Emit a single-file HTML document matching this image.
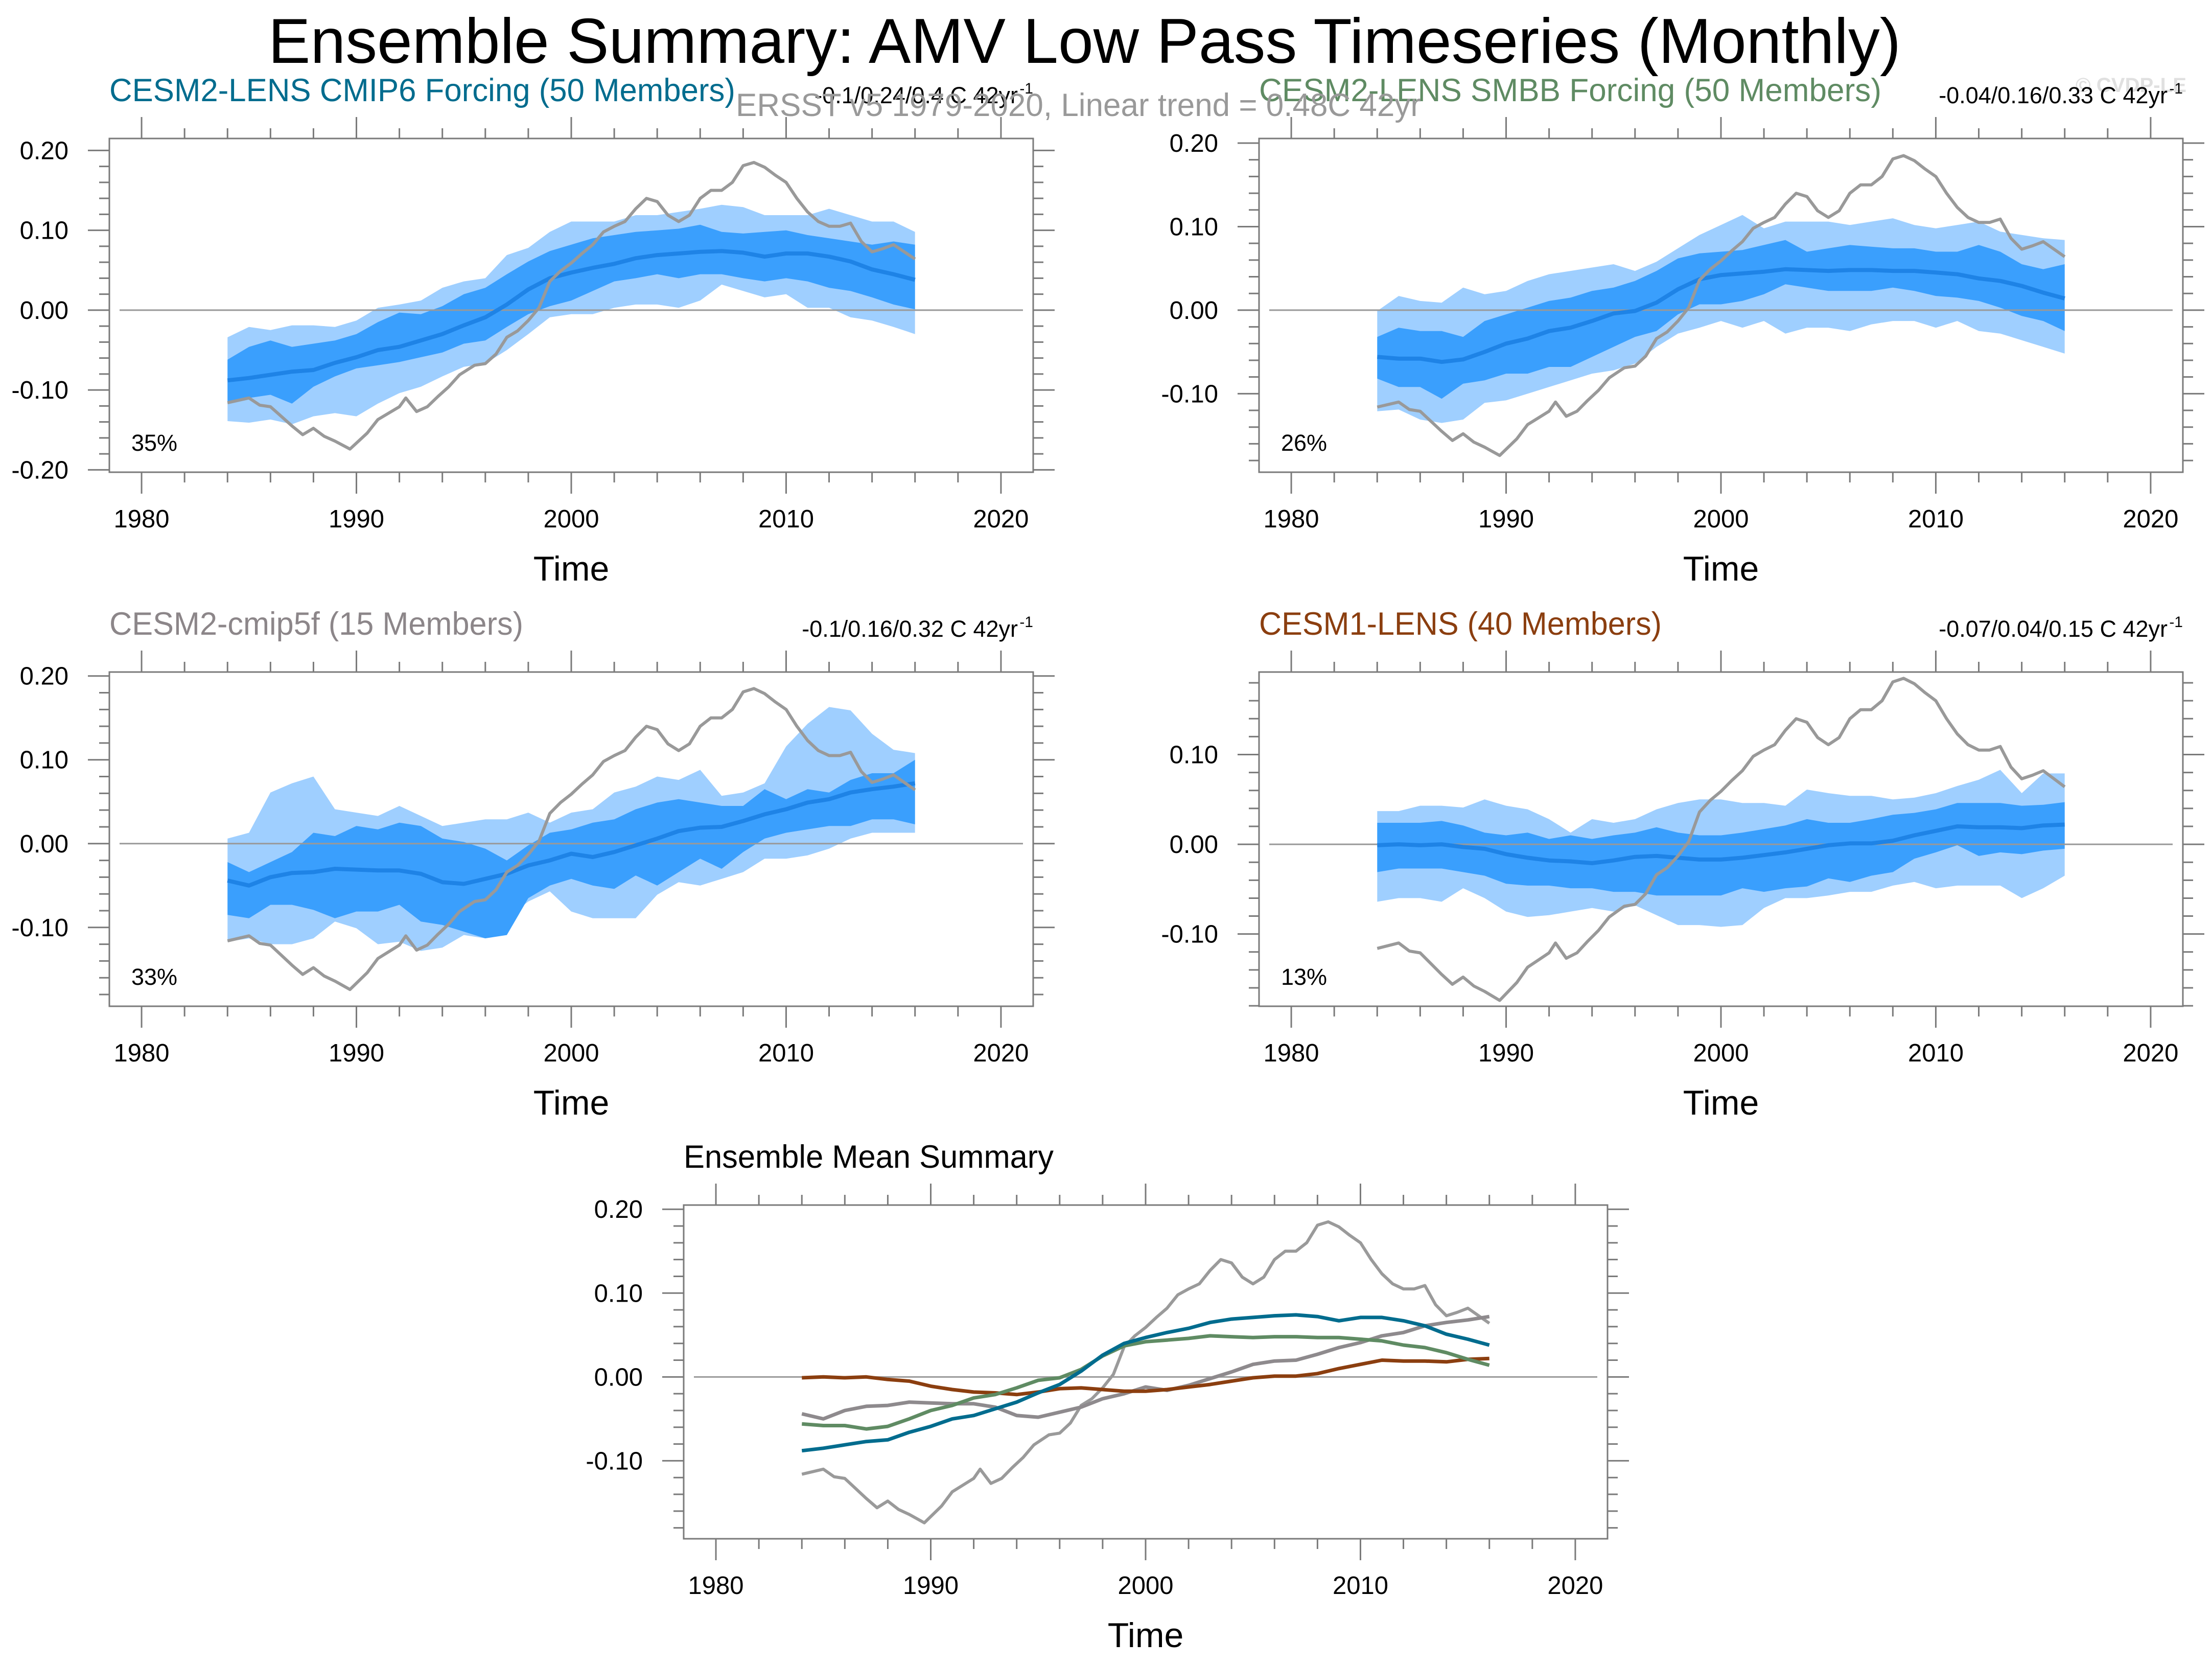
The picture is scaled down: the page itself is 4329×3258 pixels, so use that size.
<!DOCTYPE html>
<html><head><meta charset="utf-8"><title>AMV Low Pass</title>
<style>html,body{margin:0;padding:0;background:#fff}svg{display:block}</style></head>
<body>
<svg id="chart" width="4329" height="3258" viewBox="0 0 4329 3258" xmlns="http://www.w3.org/2000/svg" font-family="Liberation Sans, sans-serif">
<text x="525" y="123" font-size="124" textLength="3195" lengthAdjust="spacingAndGlyphs">Ensemble Summary: AMV Low Pass Timeseries (Monthly)</text>
<text x="4062" y="180" font-size="40" font-weight="bold" fill="#e0e0e0" textLength="217" lengthAdjust="spacingAndGlyphs">© CVDP-LE</text>
<g id="panels"></g>
<text x="1440" y="227" font-size="63" fill="#999" textLength="1341" lengthAdjust="spacingAndGlyphs">ERSST v5 1979-2020, Linear trend = 0.48C 42yr</text>
</svg>
<script>
const years = [1984,1985,1986,1987,1988,1989,1990,1991,1992,1993,1994,1995,1996,1997,1998,1999,2000,2001,2002,2003,2004,2005,2006,2007,2008,2009,2010,2011,2012,2013,2014,2015,2016];
const obsYears = [1984,1985,1985.5,1986,1986.5,1987,1987.5,1988,1988.5,1989,1989.7,1990.5,1991,1991.5,1992,1992.3,1992.8,1993.3,1993.8,1994.3,1994.8,1995.5,1996,1996.5,1997,1997.5,1998,1998.5,1999,1999.5,2000,2000.5,2001,2001.5,2002,2002.5,2003,2003.5,2004,2004.5,2005,2005.5,2006,2006.5,2007,2007.5,2008,2008.5,2009,2009.5,2010,2010.5,2011,2011.5,2012,2012.5,2013,2013.5,2014,2014.5,2015,2015.5,2016];
const obsVals = [-0.116,-0.110,-0.119,-0.121,-0.133,-0.145,-0.156,-0.148,-0.158,-0.164,-0.174,-0.154,-0.137,-0.129,-0.121,-0.110,-0.127,-0.121,-0.108,-0.096,-0.081,-0.069,-0.067,-0.055,-0.034,-0.026,-0.013,0.003,0.036,0.049,0.059,0.071,0.082,0.098,0.105,0.111,0.127,0.140,0.136,0.119,0.111,0.119,0.140,0.150,0.150,0.160,0.181,0.185,0.179,0.169,0.160,0.140,0.123,0.111,0.105,0.105,0.109,0.086,0.073,0.077,0.082,0.073,0.064];

const p1Mean = [-0.088,-0.085,-0.081,-0.077,-0.075,-0.066,-0.059,-0.050,-0.046,-0.038,-0.030,-0.019,-0.009,0.007,0.026,0.040,0.047,0.053,0.058,0.065,0.069,0.071,0.073,0.074,0.072,0.067,0.071,0.071,0.067,0.061,0.051,0.045,0.038];
const p1DarkHi = [-0.062,-0.046,-0.038,-0.046,-0.042,-0.038,-0.030,-0.015,-0.003,-0.005,0.005,0.020,0.028,0.045,0.061,0.074,0.082,0.090,0.094,0.098,0.100,0.102,0.107,0.098,0.096,0.098,0.100,0.094,0.090,0.086,0.082,0.086,0.082];
const p1DarkLo = [-0.117,-0.110,-0.106,-0.117,-0.096,-0.083,-0.073,-0.069,-0.065,-0.059,-0.053,-0.042,-0.038,-0.021,-0.005,0.005,0.012,0.024,0.036,0.040,0.045,0.040,0.045,0.045,0.040,0.036,0.040,0.036,0.028,0.024,0.016,0.007,0.001];
const p1LightHi = [-0.034,-0.021,-0.025,-0.019,-0.019,-0.021,-0.013,0.003,0.007,0.012,0.028,0.036,0.040,0.069,0.078,0.098,0.111,0.111,0.111,0.119,0.119,0.123,0.127,0.132,0.129,0.119,0.119,0.119,0.127,0.119,0.111,0.111,0.098];
const p1LightLo = [-0.139,-0.141,-0.137,-0.143,-0.133,-0.129,-0.133,-0.117,-0.104,-0.096,-0.083,-0.071,-0.067,-0.050,-0.030,-0.009,-0.005,-0.005,0.003,0.007,0.007,0.003,0.012,0.032,0.024,0.016,0.020,0.003,0.003,-0.009,-0.013,-0.021,-0.030];

const p2Mean = [-0.056,-0.058,-0.058,-0.062,-0.059,-0.050,-0.040,-0.034,-0.025,-0.021,-0.013,-0.004,-0.001,0.009,0.025,0.037,0.042,0.044,0.046,0.049,0.048,0.047,0.048,0.048,0.047,0.047,0.045,0.043,0.038,0.035,0.029,0.021,0.014];
const p2DarkHi = [-0.032,-0.021,-0.025,-0.025,-0.032,-0.013,-0.005,0.003,0.011,0.015,0.023,0.027,0.035,0.047,0.062,0.068,0.070,0.072,0.078,0.084,0.070,0.074,0.078,0.076,0.074,0.074,0.070,0.070,0.078,0.070,0.055,0.049,0.055];
const p2DarkLo = [-0.082,-0.092,-0.092,-0.106,-0.088,-0.084,-0.076,-0.076,-0.068,-0.068,-0.056,-0.044,-0.032,-0.025,-0.005,0.007,0.007,0.011,0.019,0.031,0.027,0.023,0.023,0.023,0.027,0.023,0.017,0.015,0.011,0.003,-0.007,-0.013,-0.025];
const p2LightHi = [-0.001,0.017,0.011,0.009,0.027,0.019,0.023,0.035,0.043,0.047,0.051,0.055,0.047,0.058,0.074,0.090,0.102,0.114,0.098,0.106,0.106,0.106,0.102,0.106,0.110,0.102,0.098,0.102,0.106,0.094,0.090,0.086,0.084];
const p2LightLo = [-0.121,-0.119,-0.131,-0.135,-0.131,-0.111,-0.108,-0.100,-0.092,-0.084,-0.076,-0.072,-0.064,-0.044,-0.028,-0.021,-0.013,-0.021,-0.013,-0.028,-0.021,-0.021,-0.025,-0.017,-0.013,-0.013,-0.021,-0.013,-0.025,-0.028,-0.036,-0.044,-0.052];

const p3Mean = [-0.044,-0.050,-0.040,-0.035,-0.034,-0.030,-0.031,-0.032,-0.032,-0.036,-0.046,-0.048,-0.042,-0.036,-0.026,-0.020,-0.012,-0.016,-0.010,-0.002,0.006,0.015,0.019,0.020,0.027,0.035,0.041,0.049,0.053,0.061,0.065,0.068,0.072];
const p3DarkHi = [-0.022,-0.034,-0.022,-0.010,0.013,0.009,0.021,0.017,0.025,0.021,0.006,0.002,-0.006,-0.020,-0.002,0.013,0.017,0.025,0.029,0.041,0.049,0.053,0.049,0.045,0.045,0.065,0.053,0.065,0.061,0.076,0.084,0.084,0.100];
const p3DarkLo = [-0.085,-0.089,-0.073,-0.073,-0.079,-0.089,-0.081,-0.081,-0.073,-0.093,-0.097,-0.105,-0.113,-0.109,-0.065,-0.050,-0.042,-0.050,-0.054,-0.038,-0.050,-0.034,-0.018,-0.030,-0.010,0.006,0.013,0.017,0.021,0.021,0.029,0.029,0.023];
const p3LightHi = [0.006,0.013,0.061,0.072,0.080,0.041,0.037,0.033,0.045,0.033,0.021,0.025,0.029,0.029,0.037,0.025,0.037,0.041,0.061,0.068,0.080,0.076,0.088,0.057,0.061,0.072,0.116,0.143,0.163,0.159,0.131,0.112,0.108];
const p3LightLo = [-0.117,-0.113,-0.120,-0.120,-0.113,-0.093,-0.101,-0.120,-0.117,-0.128,-0.124,-0.109,-0.113,-0.089,-0.069,-0.057,-0.081,-0.089,-0.089,-0.089,-0.061,-0.046,-0.050,-0.042,-0.034,-0.018,-0.018,-0.014,-0.006,0.006,0.013,0.013,0.013];

const p4Mean = [-0.001,0.000,-0.001,0.000,-0.003,-0.005,-0.011,-0.015,-0.018,-0.019,-0.021,-0.018,-0.014,-0.013,-0.015,-0.017,-0.017,-0.015,-0.012,-0.009,-0.005,-0.001,0.001,0.001,0.004,0.010,0.015,0.020,0.019,0.019,0.018,0.021,0.022];
const p4DarkHi = [0.024,0.024,0.024,0.026,0.021,0.013,0.010,0.013,0.006,0.010,0.006,0.010,0.013,0.019,0.013,0.010,0.010,0.013,0.017,0.021,0.028,0.024,0.024,0.028,0.033,0.035,0.039,0.046,0.046,0.046,0.043,0.044,0.047];
const p4DarkLo = [-0.031,-0.027,-0.027,-0.027,-0.031,-0.035,-0.044,-0.046,-0.046,-0.049,-0.049,-0.053,-0.053,-0.057,-0.057,-0.057,-0.057,-0.049,-0.053,-0.049,-0.047,-0.038,-0.042,-0.035,-0.031,-0.016,-0.009,-0.001,-0.013,-0.009,-0.011,-0.007,-0.005];
const p4LightHi = [0.037,0.037,0.043,0.043,0.041,0.050,0.043,0.039,0.028,0.013,0.028,0.024,0.028,0.039,0.046,0.050,0.050,0.046,0.046,0.043,0.061,0.057,0.054,0.054,0.050,0.052,0.057,0.065,0.072,0.083,0.057,0.079,0.079];
const p4LightLo = [-0.064,-0.060,-0.060,-0.064,-0.049,-0.060,-0.075,-0.081,-0.079,-0.075,-0.071,-0.075,-0.068,-0.079,-0.090,-0.090,-0.092,-0.090,-0.071,-0.060,-0.060,-0.057,-0.053,-0.053,-0.046,-0.042,-0.049,-0.046,-0.046,-0.046,-0.060,-0.049,-0.035];

const xTickLabels = [1980,1990,2000,2010,2020];
const yTickLabels = [0.20,0.10,0.00,-0.10,-0.20];

const NS = 'http://www.w3.org/2000/svg';
const root = document.getElementById('panels');
function mk(tag, attrs, parent){ const e=document.createElementNS(NS,tag); for(const k in attrs) e.setAttribute(k,attrs[k]); (parent||root).appendChild(e); return e; }

const panels = [
 {name:'cesm2-lens-cmip6', x0:214,x1:2022,y0:271,y1:924,ymax:0.215,ymin:-0.203,title:'CESM2-LENS CMIP6 Forcing (50 Members)',tcol:'#006c8e',tw:1225,trend:'-0.1/0.24/0.4 C 42yr',pct:'35%',mean:p1Mean,dh:p1DarkHi,dl:p1DarkLo,lh:p1LightHi,ll:p1LightLo},
 {name:'cesm2-lens-smbb', x0:2464,x1:4272,y0:271,y1:924,ymax:0.2055,ymin:-0.194,title:'CESM2-LENS SMBB Forcing (50 Members)',tcol:'#5f8b63',tw:1218,trend:'-0.04/0.16/0.33 C 42yr',pct:'26%',mean:p2Mean,dh:p2DarkHi,dl:p2DarkLo,lh:p2LightHi,ll:p2LightLo},
 {name:'cesm2-cmip5f', x0:214,x1:2022,y0:1315,y1:1969,ymax:0.2047,ymin:-0.194,title:'CESM2-cmip5f (15 Members)',tcol:'#8c8689',tw:810,trend:'-0.1/0.16/0.32 C 42yr',pct:'33%',mean:p3Mean,dh:p3DarkHi,dl:p3DarkLo,lh:p3LightHi,ll:p3LightLo},
 {name:'cesm1-lens', x0:2464,x1:4272,y0:1315,y1:1969,ymax:0.192,ymin:-0.1805,title:'CESM1-LENS (40 Members)',tcol:'#8b3e0f',tw:788,trend:'-0.07/0.04/0.15 C 42yr',pct:'13%',mean:p4Mean,dh:p4DarkHi,dl:p4DarkLo,lh:p4LightHi,ll:p4LightLo}
];
const summary = {name:'ensemble-mean-summary', x0:1338,x1:3146,y0:2358,y1:3011,ymax:0.205,ymin:-0.193};
const XMIN=1978.5, XMAX=2021.5;

function axes(p){
  const g = mk('g',{});
  
  
  p.g=g;
  p.sx = v => p.x0 + (v-XMIN)/(XMAX-XMIN)*(p.x1-p.x0);
  p.sy = v => p.y1 - (v-p.ymin)/(p.ymax-p.ymin)*(p.y1-p.y0);
  return g;
}
function frame(p){
  const g=p.g;
  const ax = mk('g',{stroke:'#7a7a7a','stroke-width':3},g);
  
  
  mk('rect',{x:p.x0,y:p.y0,width:p.x1-p.x0,height:p.y1-p.y0,fill:'none'},ax);
  for(let yr=1980; yr<=2020; yr+=2){
    const x=p.sx(yr), L=(yr%10===0)?42:20;
    mk('line',{x1:x,x2:x,y1:p.y0,y2:p.y0-L},ax);
    mk('line',{x1:x,x2:x,y1:p.y1,y2:p.y1+L},ax);
  }
  for(let i=-10;i<=10;i++){
    const v=i*0.02; if(v<p.ymin||v>p.ymax) continue;
    const y=p.sy(v), L=(i%5===0)?42:20;
    mk('line',{x1:p.x0,x2:p.x0-L,y1:y,y2:y},ax);
    mk('line',{x1:p.x1,x2:p.x1+L,y1:y,y2:y},ax);
  }
  xTickLabels.forEach(v=>{
    const t=mk('text',{x:p.sx(v),y:p.y1+108,'font-size':49,'text-anchor':'middle'},g);
    
    
    t.textContent=v;
  });
  yTickLabels.forEach(v=>{
    if(v<p.ymin||v>p.ymax) return;
    const t=mk('text',{x:p.x0-80,y:p.sy(v)+17,'font-size':49,'text-anchor':'end'},g);
    
    
    t.textContent=v.toFixed(2);
  });
  const tt=mk('text',{x:(p.x0+p.x1)/2,y:p.y1+212,'font-size':68,'text-anchor':'middle'},g);
  
  
  tt.textContent='Time';
}
function zero(p){
  const z=mk('line',{x1:p.x0+20,x2:p.x1-20,y1:p.sy(0),y2:p.sy(0),stroke:'#999','stroke-width':3},p.g);
  
  
}
function linePath(p,xs,ys){ return xs.map((x,i)=>(i?'L':'M')+p.sx(x).toFixed(1)+' '+p.sy(ys[i]).toFixed(1)).join(' '); }
function bandPath(p,hi,lo){
  let d=years.map((x,i)=>(i?'L':'M')+p.sx(x).toFixed(1)+' '+p.sy(hi[i]).toFixed(1)).join(' ');
  for(let i=years.length-1;i>=0;i--) d+=' L'+p.sx(years[i]).toFixed(1)+' '+p.sy(lo[i]).toFixed(1);
  return d+' Z';
}

panels.forEach(p=>{
  axes(p);
  const lb=mk('path',{d:bandPath(p,p.lh,p.ll),fill:'#9fcfff'},p.g);
  
  
  const db=mk('path',{d:bandPath(p,p.dh,p.dl),fill:'#3a9ffd'},p.g);
  
  
  zero(p);
  const ml=mk('path',{d:linePath(p,years,p.mean),fill:'none',stroke:'#1e83e6','stroke-width':8,'stroke-linejoin':'round'},p.g);
  
  
  const ol=mk('path',{d:linePath(p,obsYears,obsVals),fill:'none',stroke:'#999','stroke-width':6,'stroke-linejoin':'round'},p.g);
  
  
  frame(p);
  const t=mk('text',{x:p.x0,y:p.y0-73,'font-size':63,fill:p.tcol,textLength:p.tw,lengthAdjust:'spacingAndGlyphs'},p.g);
  
  
  t.textContent=p.title;
  const r=mk('text',{x:p.x1-30,y:p.y0-69,'font-size':45,'text-anchor':'end'},p.g);
  
  
  r.textContent=p.trend;
  const s=mk('text',{x:p.x1,y:p.y0-88,'font-size':30,'text-anchor':'end'},p.g);
  
  
  s.textContent='-1';
  const pc=mk('text',{x:p.x0+43,y:p.y1-42,'font-size':45},p.g);
  
  
  pc.textContent=p.pct;
});

axes(summary);
zero(summary);
const sumSeries=[[p3Mean,'#8e8a8d','cesm2-cmip5f-mean'],[p4Mean,'#8b3e0f','cesm1-lens-mean'],[p2Mean,'#5f8b63','cesm2-smbb-mean'],[p1Mean,'#006c8e','cesm2-cmip6-mean']];
const ol5=mk('path',{d:linePath(summary,obsYears,obsVals),fill:'none',stroke:'#9a9a9a','stroke-width':6,'stroke-linejoin':'round'},summary.g);


sumSeries.forEach(s=>{
  const l=mk('path',{d:linePath(summary,years,s[0]),fill:'none',stroke:s[1],'stroke-width':7,'stroke-linejoin':'round'},summary.g);
  
  
});
frame(summary);
const st=mk('text',{x:1338,y:2285,'font-size':63,textLength:724,lengthAdjust:'spacingAndGlyphs'},summary.g);


st.textContent='Ensemble Mean Summary';
</script>
</body></html>
